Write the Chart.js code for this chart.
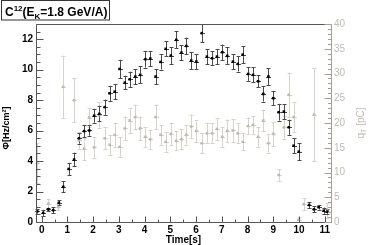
<!DOCTYPE html>
<html>
<head>
<meta charset="utf-8">
<script src="https://cdn.jsdelivr.net/npm/chart.js@4.4.0/dist/chart.umd.min.js"></script>
<style>
  body { margin: 0; background: #fff; }
  #wrap { width: 368px; height: 245px; }
</style>
</head>
<body>
<div id="wrap"><canvas id="c" width="368" height="245"></canvas></div>
<script>
// flux (black, left axis)
const times = [-0.17, 0.06, 0.26, 0.45, 0.67, 0.84, 1.05, 1.26, 1.45, 1.65,
  1.85, 2.04, 2.24, 2.45, 2.64, 2.84, 3.03, 3.23, 3.42, 3.64,
  3.83, 4.03, 4.22, 4.43, 4.62, 4.82, 5.02, 5.23, 5.43, 5.62,
  5.81, 6.01, 6.22, 6.42, 6.62, 6.81, 7.02, 7.21, 7.43, 7.62,
  7.81, 8.02, 8.21, 8.41, 8.61, 8.81, 9.0, 9.21, 9.41, 9.6,
  9.79, 9.99, 10.39, 10.58, 10.76, 10.96, 11.1];
const phi = [0.7, 0.6, 0.83, 0.78, 1.27, 2.31, 3.48, 4.1, 5.5, 5.97,
  6.01, 6.98, 7.1, 7.54, 8.45, 8.56, 10.05, 9.15, 9.37, 9.55,
  9.66, 10.69, 10.73, 9.55, 10.51, 11.37, 10.93, 11.96, 11.12, 11.56,
  10.6, 10.53, 12.4, 10.86, 10.75, 10.86, 11.15, 10.91, 10.53, 10.38,
  10.99, 9.72, 9.66, 9.24, 8.41, 9.55, 8.13, 7.21, 7.25, 6.22,
  5.01, 4.62, 1.12, 0.83, 0.97, 0.74, 0.68];
const phiErr = [0.15, 0.2, 0.12, 0.2, 0.15, 0.35, 0.4, 0.45, 0.35, 0.4,
  0.35, 0.45, 0.5, 0.5, 0.5, 0.5, 0.6, 0.45, 0.5, 0.5,
  0.55, 0.55, 0.5, 0.5, 0.5, 0.5, 0.55, 0.55, 0.5, 0.55,
  0.55, 0.5, 0.6, 0.5, 0.45, 0.5, 0.5, 0.55, 0.5, 0.5,
  0.55, 0.45, 0.5, 0.4, 0.5, 0.55, 0.45, 0.55, 0.5, 0.5,
  0.5, 0.55, 0.2, 0.2, 0.15, 0.2, 0.15];

// charge (grey, right axis)
const qTimes = [-0.17, 0.26, 0.65, 0.84, 1.26, 1.45, 1.65, 1.85, 2.04, 2.24,
  2.45, 2.64, 2.84, 3.03, 3.23, 3.42, 3.64, 3.83, 4.03, 4.22,
  4.43, 4.62, 4.82, 5.02, 5.23, 5.43, 5.62, 5.81, 6.01, 6.22,
  6.42, 6.62, 6.81, 7.02, 7.21, 7.43, 7.62, 7.81, 8.02, 8.21,
  8.41, 8.61, 8.81, 9.0, 9.21, 9.41, 9.6, 9.79, 9.99, 10.18,
  10.58, 11.1];
const charge = [11.9, 3.7, 3.0, 27.3, 24.6, 16.5, 14.8, 21.1, 15.1, 21.6,
  16.9, 15.6, 17.6, 15.2, 18.9, 20.5, 21.2, 18.9, 17.2, 16.7,
  21.2, 17.6, 16.2, 17.8, 16.4, 16.7, 17.6, 19.3, 18.4, 15.9,
  17.9, 17.9, 18.8, 17.2, 18.4, 18.5, 17.9, 16.2, 19.4, 19.6,
  17.2, 20.5, 15.9, 17.8, 9.5, 19.1, 25.7, 21.2, 0.5, 3.6,
  21.7, 2.3];
const chargeErr = [4.0, 1.0, 0.6, 6.3, 4.4, 1.7, 2.2, 1.9, 2.1, 2.6,
  2.2, 2.0, 2.4, 2.0, 2.4, 2.5, 2.5, 2.4, 2.0, 1.9,
  2.5, 2.0, 2.0, 2.2, 1.9, 2.0, 2.0, 2.4, 2.2, 2.0,
  2.0, 2.0, 2.2, 2.0, 2.3, 2.3, 2.0, 1.7, 1.7, 1.8,
  2.0, 2.2, 1.9, 2.5, 1.2, 2.3, 4.5, 3.0, 0.5, 1.2,
  9.4, 1.5];

const xTicks = [0, 1, 2, 3, 4, 5, 6, 7, 8, 9, 10, 11];
const phiTicks = [0, 2, 4, 6, 8, 10, 12];
const chargeTicks = [0, 5, 10, 15, 20, 25, 30, 35, 40];

const TAN = '#c4bab0';
const FONT = '"Liberation Sans", Arial, sans-serif';

const errorBars = {
  id: 'errorBars',
  beforeDatasetsDraw(chart) {
    const ctx = chart.ctx, x = chart.scales.x;
    const draw = (ts, vs, es, ys, color) => {
      ctx.strokeStyle = color;
      ctx.lineWidth = 1;
      ctx.beginPath();
      ts.forEach((t, i) => {
        const px = Math.round(x.getPixelForValue(t)) + 0.5;
        const lo = ys.getPixelForValue(vs[i] - es[i]);
        const hi = ys.getPixelForValue(vs[i] + es[i]);
        ctx.moveTo(px, lo); ctx.lineTo(px, hi);
        ctx.moveTo(px - 2, Math.round(lo) + 0.5); ctx.lineTo(px + 2, Math.round(lo) + 0.5);
        ctx.moveTo(px - 2, Math.round(hi) + 0.5); ctx.lineTo(px + 2, Math.round(hi) + 0.5);
        const py = Math.round(ys.getPixelForValue(vs[i])) + 0.5;
        ctx.moveTo(px - 2.5, py); ctx.lineTo(px + 2.5, py);
      });
      ctx.stroke();
    };
    draw(qTimes, charge, chargeErr, chart.scales.y1, '#d8d2cb');
    draw(times, phi, phiErr, chart.scales.y, '#4a4a4a');
  }
};

const frame = {
  id: 'frame',
  afterDraw(chart) {
    const ctx = chart.ctx, a = chart.chartArea;
    const x = chart.scales.x, y = chart.scales.y, y1 = chart.scales.y1;
    const L = a.left + 0.5, R = Math.round(a.right) + 0.5, T = a.top + 0.5, B = Math.round(a.bottom) + 0.5;
    ctx.lineWidth = 1;
    ctx.strokeStyle = '#555';
    ctx.beginPath();
    ctx.moveTo(L, T); ctx.lineTo(R, T);
    ctx.moveTo(L, T); ctx.lineTo(L, B); ctx.lineTo(R, B);
    // inward ticks
    for (let v = 0; v <= 11.01; v += 0.5) {
      const px = Math.round(x.getPixelForValue(v)) + 0.5;
      const len = Math.abs(v - Math.round(v)) < 0.01 ? 6 : 3;
      ctx.moveTo(px, B); ctx.lineTo(px, B - len);
    }
    for (let v = 0; v <= 13.01; v += 0.5) {
      const py = Math.round(y.getPixelForValue(v)) + 0.5;
      const len = Math.abs(v / 2 - Math.round(v / 2)) < 0.01 ? 7 : 4;
      ctx.moveTo(L, py); ctx.lineTo(L + len, py);
    }
    ctx.stroke();
    ctx.strokeStyle = '#a89e94';
    ctx.beginPath();
    ctx.moveTo(R, T); ctx.lineTo(R, B);
    for (let v = 0; v <= 40.01; v += 1) {
      const py = Math.round(y1.getPixelForValue(v)) + 0.5;
      const len = v % 5 === 0 ? 7 : 3.5;
      ctx.moveTo(R, py); ctx.lineTo(R - len, py);
    }
    ctx.stroke();

    // title box
    ctx.strokeStyle = '#333';
    ctx.strokeRect(1.5, 0.5, 108, 19.5);
    ctx.fillStyle = '#000';
    ctx.textBaseline = 'alphabetic';
    ctx.textAlign = 'left';
    let cx = 5;
    const part = (txt, size, base) => {
      ctx.font = 'bold ' + size + 'px ' + FONT;
      ctx.fillText(txt, cx, base);
      cx += ctx.measureText(txt).width;
    };
    part('C', 12, 16); part('12', 8, 11); part('(E', 12, 16); part('K', 8, 19); part('=1.8 GeV/A)', 12, 16);

    // axis titles
    ctx.font = 'bold 10px ' + FONT;
    ctx.textAlign = 'center';
    ctx.fillText('Time[s]', (a.left + a.right) / 2, 243);

    ctx.save();
    ctx.translate(7, 128);
    ctx.rotate(-Math.PI / 2);
    ctx.font = 'bold 9px ' + FONT;
    ctx.textBaseline = 'middle';
    ctx.fillText('\u03A6[Hz/cm\u00B2]', 0, 0);
    ctx.restore();

    ctx.save();
    ctx.translate(361, 123);
    ctx.rotate(-Math.PI / 2);
    ctx.fillStyle = TAN;
    ctx.textBaseline = 'middle';
    ctx.textAlign = 'left';
    ctx.font = '10px ' + FONT;
    const w1 = ctx.measureText('q').width;
    ctx.font = '7px ' + FONT;
    const w2 = ctx.measureText('T').width;
    ctx.font = '10px ' + FONT;
    const w3 = ctx.measureText(' [pC]').width;
    let sx = -(w1 + w2 + w3) / 2;
    ctx.fillText('q', sx, 0); sx += w1;
    ctx.font = '7px ' + FONT;
    ctx.fillText('T', sx, 3); sx += w2;
    ctx.font = '10px ' + FONT;
    ctx.fillText(' [pC]', sx, 0);
    ctx.restore();
  }
};

new Chart(document.getElementById('c'), {
  type: 'scatter',
  data: {
    datasets: [
      {
        data: times.map((t, i) => ({ x: t, y: phi[i] })),
        yAxisID: 'y',
        pointStyle: 'rect',
        pointRadius: 1.8,
        backgroundColor: '#000',
        borderColor: '#000',
        borderWidth: 0
      },
      {
        data: qTimes.map((t, i) => ({ x: t, y: charge[i] })),
        yAxisID: 'y1',
        pointStyle: 'rect',
        pointRadius: 1.8,
        backgroundColor: '#c2b9ae',
        borderColor: '#c2b9ae',
        borderWidth: 0
      }
    ]
  },
  options: {
    responsive: false,
    animation: false,
    devicePixelRatio: 1,
    layout: { padding: { top: 24, left: 0, right: 0, bottom: 0 } },
    plugins: { legend: { display: false }, tooltip: { enabled: false } },
    scales: {
      x: {
        type: 'linear', min: -0.22, max: 11.24,
        grid: { display: false, drawTicks: false }, border: { display: false },
        afterBuildTicks: s => { s.ticks = xTicks.map(v => ({ value: v })); },
        afterFit: s => { s.height = 23; },
        ticks: { padding: 2, maxRotation: 0, color: '#000', font: { family: FONT, size: 10, weight: 'bold' } }
      },
      y: {
        type: 'linear', position: 'left', min: 0, max: 13,
        grid: { display: false, drawTicks: false }, border: { display: false },
        afterBuildTicks: s => { s.ticks = phiTicks.map(v => ({ value: v })); },
        afterFit: s => { s.width = 36; },
        ticks: { padding: 3, color: '#000', font: { family: FONT, size: 10, weight: 'bold' } }
      },
      y1: {
        type: 'linear', position: 'right', min: 0, max: 40,
        grid: { display: false, drawTicks: false }, border: { display: false },
        afterBuildTicks: s => { s.ticks = chargeTicks.map(v => ({ value: v })); },
        afterFit: s => { s.width = 37; },
        ticks: { padding: 3, color: TAN, font: { family: FONT, size: 10 } }
      }
    }
  },
  plugins: [errorBars, frame]
});
</script>
</body>
</html>
